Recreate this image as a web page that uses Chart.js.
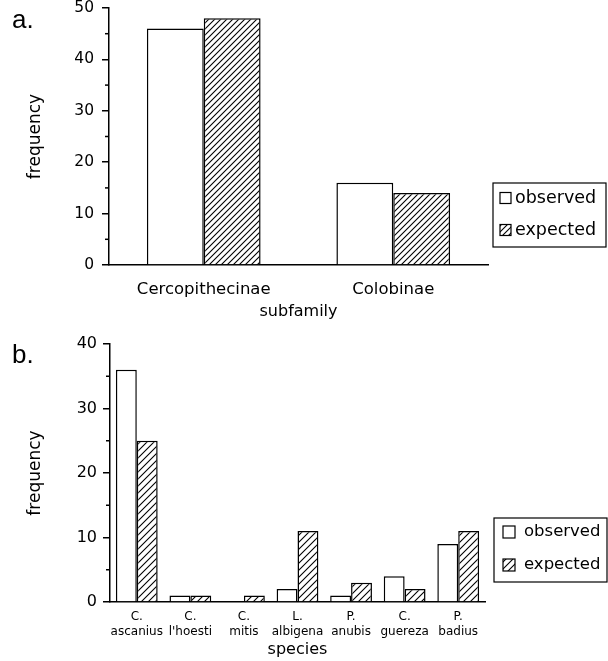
<!DOCTYPE html>
<html>
<head>
<meta charset="utf-8">
<script src="https://cdn.jsdelivr.net/npm/chart.js@4"></script>
<style>
  html, body { margin: 0; padding: 0; background: #fff; }
  .panel { position: absolute; left: 0; width: 608px; }
  #wrapA { top: 0; height: 330px; }
  #wrapB { top: 330px; height: 331px; }
</style>
</head>
<body>
<div class="panel" id="wrapA"><canvas id="chartA"></canvas></div>
<div class="panel" id="wrapB"><canvas id="chartB"></canvas></div>
<script>
// ---------- DATA ----------
const subfamilies = ["Cercopithecinae", "Colobinae"];
const subfamilyObserved = [46, 16];
const subfamilyExpected = [48, 14];
const subfamilyTicks = [0, 10, 20, 30, 40, 50];

const species = [
  ["C.", "ascanius"], ["C.", "l'hoesti"], ["C.", "mitis"], ["L.", "albigena"],
  ["P.", "anubis"], ["C.", "guereza"], ["P.", "badius"]
];
const speciesObserved = [36, 1, 0, 2, 1, 4, 9];
const speciesExpected = [25, 1, 1, 11, 3, 2, 11];
const speciesTicks = [0, 10, 20, 30, 40];

const seriesNames = ["observed", "expected"];

const FONT = "'DejaVu Sans', sans-serif";

// diagonal "/" hatching used for the expected bars
function hatch(size) {
  const c = document.createElement("canvas");
  c.width = size;
  c.height = size;
  const g = c.getContext("2d");
  g.fillStyle = "#fff";
  g.fillRect(0, 0, size, size);
  g.strokeStyle = "#000";
  g.lineWidth = 1.1;
  g.beginPath();
  g.moveTo(0, size); g.lineTo(size, 0);
  g.moveTo(-1, 1); g.lineTo(1, -1);
  g.moveTo(size - 1, size + 1); g.lineTo(size + 1, size - 1);
  g.stroke();
  return g.createPattern(c, "repeat");
}

// minor ticks, panel letter and boxed legend
const extras = {
  id: "extras",
  afterDraw(chart, args, opts) {
    const ctx = chart.ctx;
    const y = chart.scales.y;
    const left = chart.chartArea.left;
    ctx.save();
    ctx.strokeStyle = "#000";
    ctx.lineWidth = 1.5;
    for (let i = 0; i < opts.ticks.length - 1; i++) {
      const py = y.getPixelForValue((opts.ticks[i] + opts.ticks[i + 1]) / 2);
      ctx.beginPath();
      ctx.moveTo(left - 4, py);
      ctx.lineTo(left, py);
      ctx.stroke();
    }

    ctx.fillStyle = "#000";
    ctx.font = "26px 'Liberation Sans', sans-serif";
    ctx.textBaseline = "alphabetic";
    ctx.fillText(opts.panel, 12, opts.panelY);

    const L = opts.legend;
    ctx.lineWidth = 1.2;
    ctx.strokeRect(L.x, L.y, L.w, L.h);
    chart.data.datasets.forEach((ds, i) => {
      const cy = L.rows[i];
      ctx.fillStyle = ds.backgroundColor;
      ctx.fillRect(L.iconX, cy - L.icon / 2, L.icon, L.icon);
      ctx.strokeRect(L.iconX, cy - L.icon / 2, L.icon, L.icon);
      ctx.fillStyle = "#000";
      ctx.font = L.font;
      ctx.textBaseline = "middle";
      ctx.fillText(ds.label, L.textX, cy);
    });
    ctx.restore();
  }
};

function makeChart(id, labels, obs, exp, ticks, cfg) {
  return new Chart(document.getElementById(id), {
    type: "bar",
    data: {
      labels: labels,
      datasets: [
        {
          label: seriesNames[0], data: obs,
          backgroundColor: "#fff", borderColor: "#000", borderWidth: 1.5,
          categoryPercentage: cfg.catPct, barPercentage: 1
        },
        {
          label: seriesNames[1], data: exp,
          backgroundColor: hatch(cfg.hatch), borderColor: "#000", borderWidth: 1.5,
          categoryPercentage: cfg.catPct, barPercentage: 1
        }
      ]
    },
    options: {
      responsive: true,
      maintainAspectRatio: false,
      animation: false,
      layout: { padding: { top: cfg.top, right: cfg.right, left: 0, bottom: 0 } },
      plugins: {
        legend: { display: false },
        tooltip: { enabled: false },
        extras: { ticks: ticks, panel: cfg.panel, panelY: cfg.panelY, legend: cfg.legend }
      },
      scales: {
        x: {
          grid: { display: false, drawTicks: false },
          border: { color: "#000", width: 1.5 },
          ticks: {
            color: "#000", padding: cfg.xPad, maxRotation: 0, autoSkip: false,
            font: { family: FONT, size: cfg.xFont, lineHeight: cfg.xLine }
          },
          title: {
            display: true, text: cfg.xTitle, color: "#000",
            font: { family: FONT, size: 16 },
            padding: { top: 0, bottom: cfg.xTitlePad }
          },
          afterFit: s => { s.height = cfg.xHeight; }
        },
        y: {
          min: ticks[0],
          max: ticks[ticks.length - 1],
          ticks: {
            stepSize: ticks[1] - ticks[0], color: "#000", padding: cfg.yPad,
            font: { family: FONT, size: cfg.yFont }
          },
          grid: { drawOnChartArea: false, drawTicks: true, tickLength: 7, color: "#000", lineWidth: 1.5 },
          border: { color: "#000", width: 1.5 },
          title: {
            display: true, text: "frequency", color: "#000",
            font: { family: FONT, size: 17 },
            padding: { top: 25, bottom: 0 }
          },
          afterFit: s => { s.width = cfg.yWidth; s.paddingTop = 0; s.paddingBottom = 0; }
        }
      }
    },
    plugins: [extras]
  });
}

makeChart("chartA", subfamilies, subfamilyObserved, subfamilyExpected, subfamilyTicks, {
  catPct: 0.6, hatch: 6, top: 8, right: 120, yWidth: 109, xHeight: 65,
  xFont: 16.5, xLine: 1.2, xPad: 15, xTitle: "subfamily", xTitlePad: 9, yFont: 15.5, yPad: 8,
  panel: "a.", panelY: 28,
  legend: { x: 493, y: 183, w: 113, h: 64, rows: [198, 230], iconX: 500, icon: 11, textX: 515, font: "17.5px " + FONT }
});

makeChart("chartB", species, speciesObserved, speciesExpected, speciesTicks, {
  catPct: 0.78, hatch: 7, top: 14, right: 123, yWidth: 110, xHeight: 59,
  xFont: 12, xLine: 1.25, xPad: 7, xTitle: "species", xTitlePad: 2, yFont: 16, yPad: 6,
  panel: "b.", panelY: 33,
  legend: { x: 494, y: 188, w: 113, h: 64, rows: [202, 235], iconX: 503, icon: 12, textX: 524, font: "16.5px " + FONT }
});
</script>
</body>
</html>
